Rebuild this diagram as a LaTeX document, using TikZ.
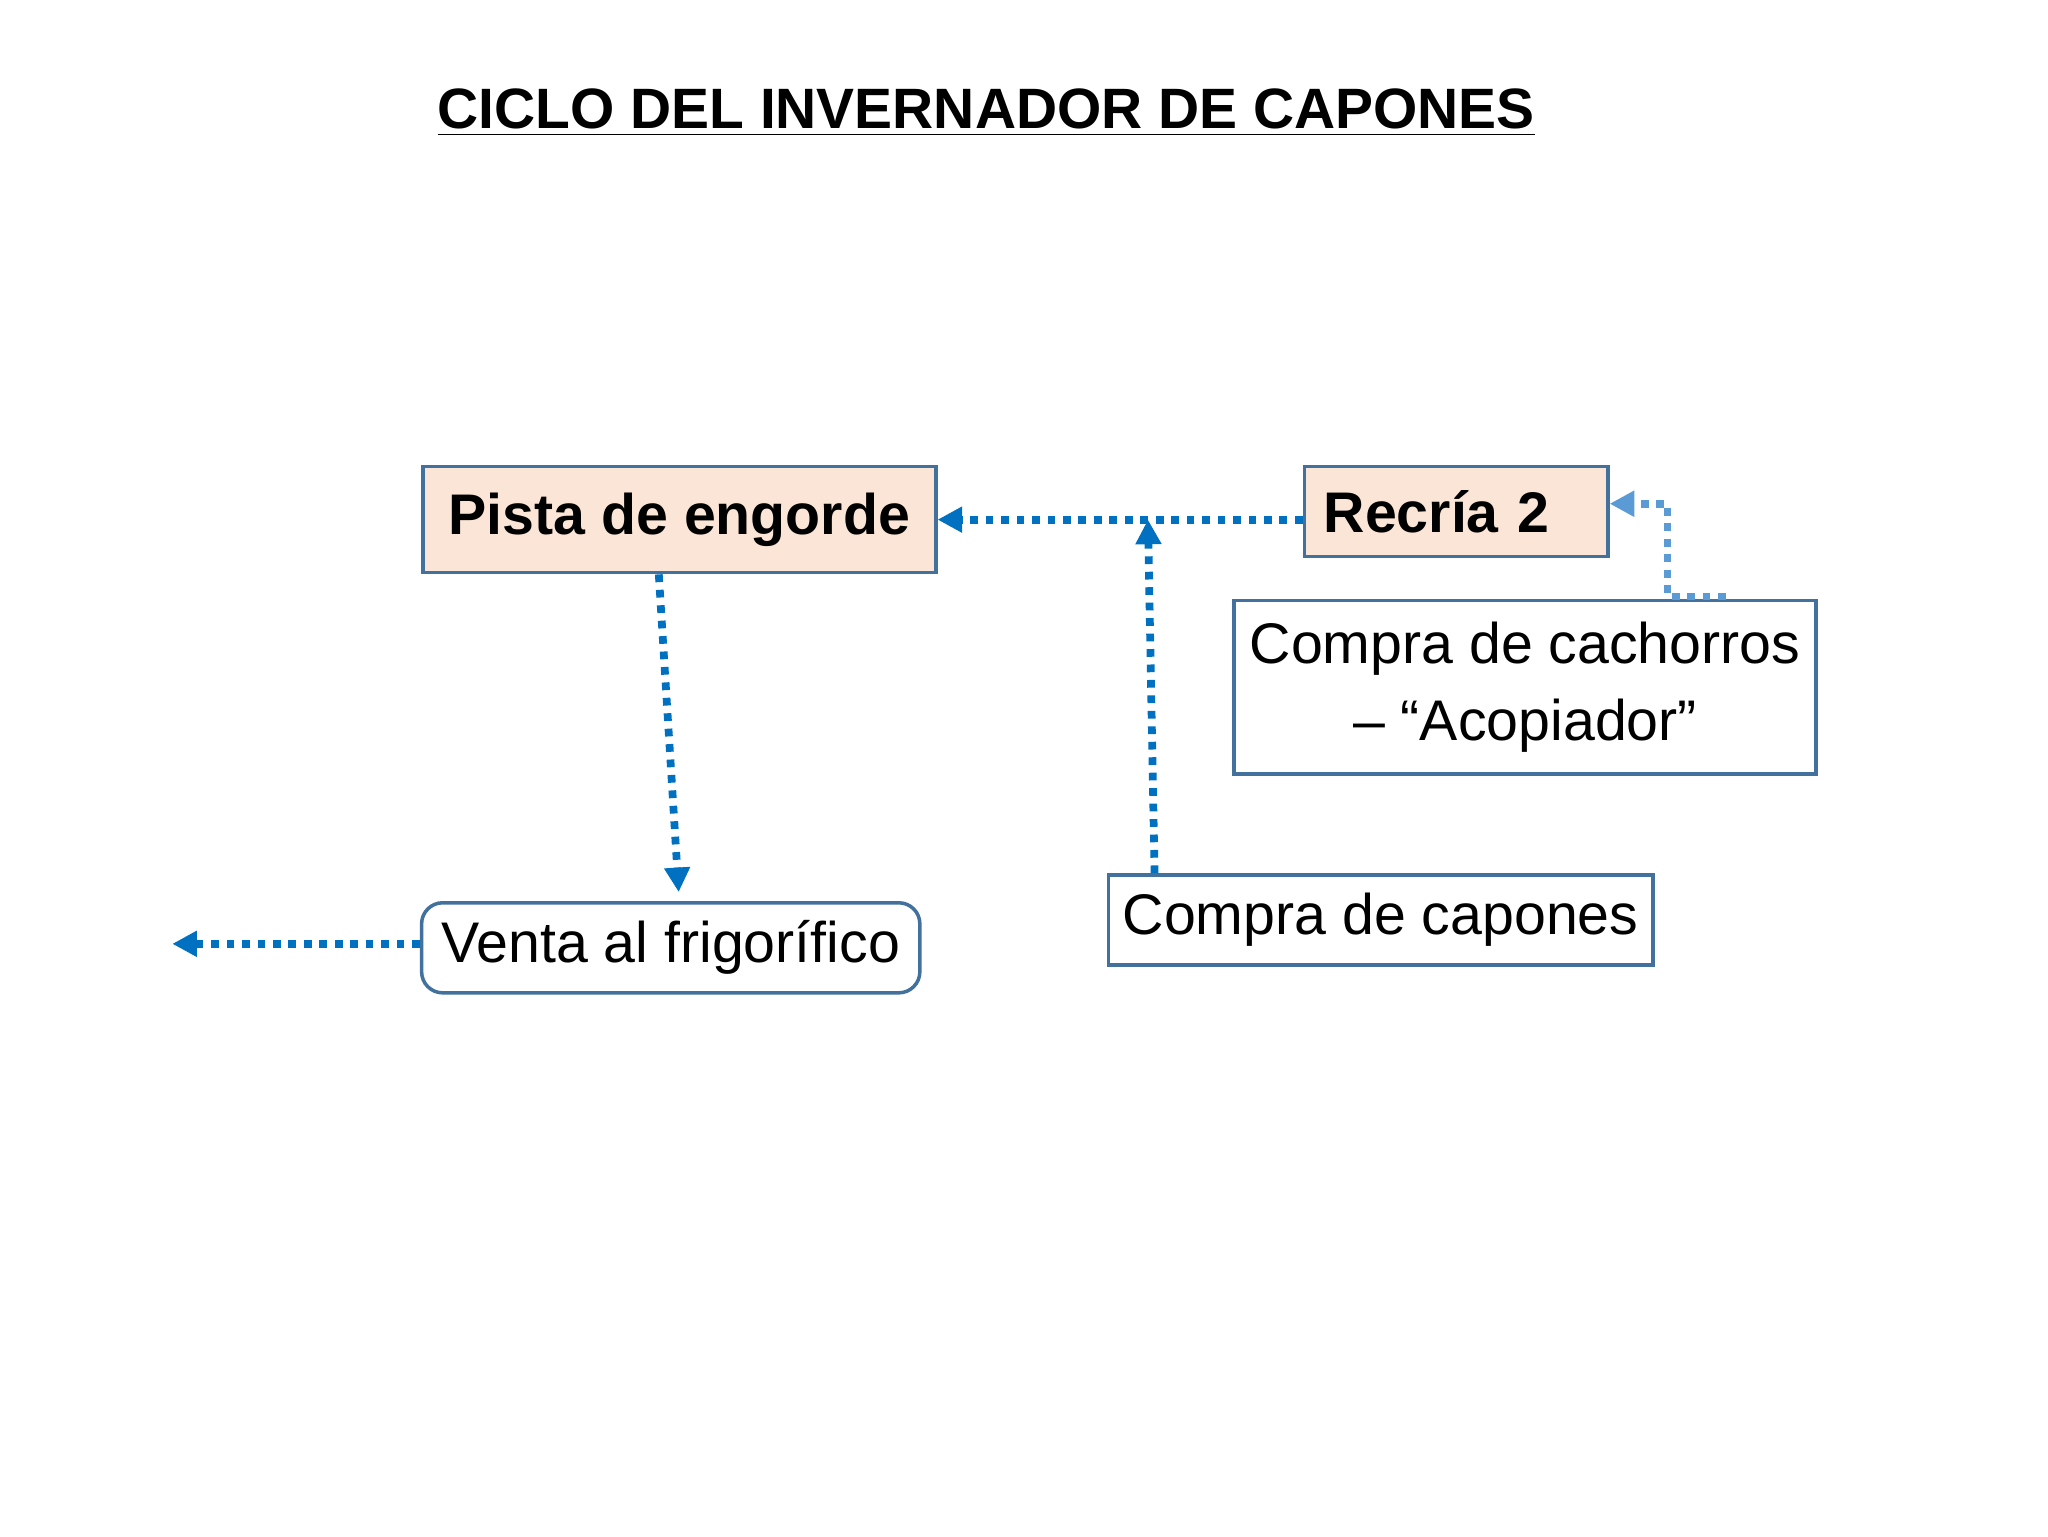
\documentclass[tikz,border=0pt]{standalone}
\usepackage{fontspec}
\setmainfont{Liberation Sans}
\usetikzlibrary{arrows.meta}
\definecolor{edge}{HTML}{41719C}
\definecolor{peach}{HTML}{FBE5D6}
\definecolor{arr}{HTML}{0070C0}
\definecolor{arrl}{HTML}{5B9BD5}
\begin{document}
\begin{tikzpicture}[x=0.013256cm,y=-0.013256cm,
  box/.style={draw=edge,line width=1pt,inner sep=0pt,font=\fontsize{16.3}{20}\selectfont},
  hot/.style={box,fill=peach,font=\fontsize{16.3}{20}\selectfont\bfseries},
  flow/.style={draw=arr,line width=2.2pt,dash pattern=on 2.2pt off 2.2pt,-{Triangle[length=7pt,width=7pt]}}]
\useasboundingbox (0,0) rectangle (1545,1159);
\node (title) at (744,85) {\fontsize{16.2}{20}\selectfont\bfseries\underline{CICLO DEL INVERNADOR DE CAPONES}};
\node[hot,minimum width=5.13cm,minimum height=1.06cm] (pista) at (512.5,392) {Pista de engorde};
\node[hot,minimum width=3.036cm,minimum height=0.901cm,text width=2.65cm,align=left] (recria) at (1098.5,386) {Recría 2};
\node[box,fill=white,minimum width=5.82cm,minimum height=1.737cm,align=center] (cach) at (1150.5,518.5) {Compra de cachorros\\[2pt]– “Acopiador”};
\node[box,fill=white,minimum width=5.448cm,minimum height=0.901cm] (capo) at (1041.5,694) {Compra de capones};
\node[box,fill=white,rounded corners=6pt,minimum width=4.984cm,minimum height=0.901cm] (venta) at (506,715) {Venta al frigorífico};
\coordinate (mid) at (866,392);
\coordinate (left) at (130,712);
\draw[flow] (recria.west |- mid) -- (pista.east |- mid);
\draw[flow] (capo.north -| 871,0) -- (mid);
\draw[flow] (pista.south -| 497,0) -- (512,673);
\draw[flow] (venta.west |- left) -- (left);
\draw[flow,draw=arrl] (1302,450) -- (1258,450) -- (1258,380) -- (recria.east |- 0,380);
\end{tikzpicture}
\end{document}
